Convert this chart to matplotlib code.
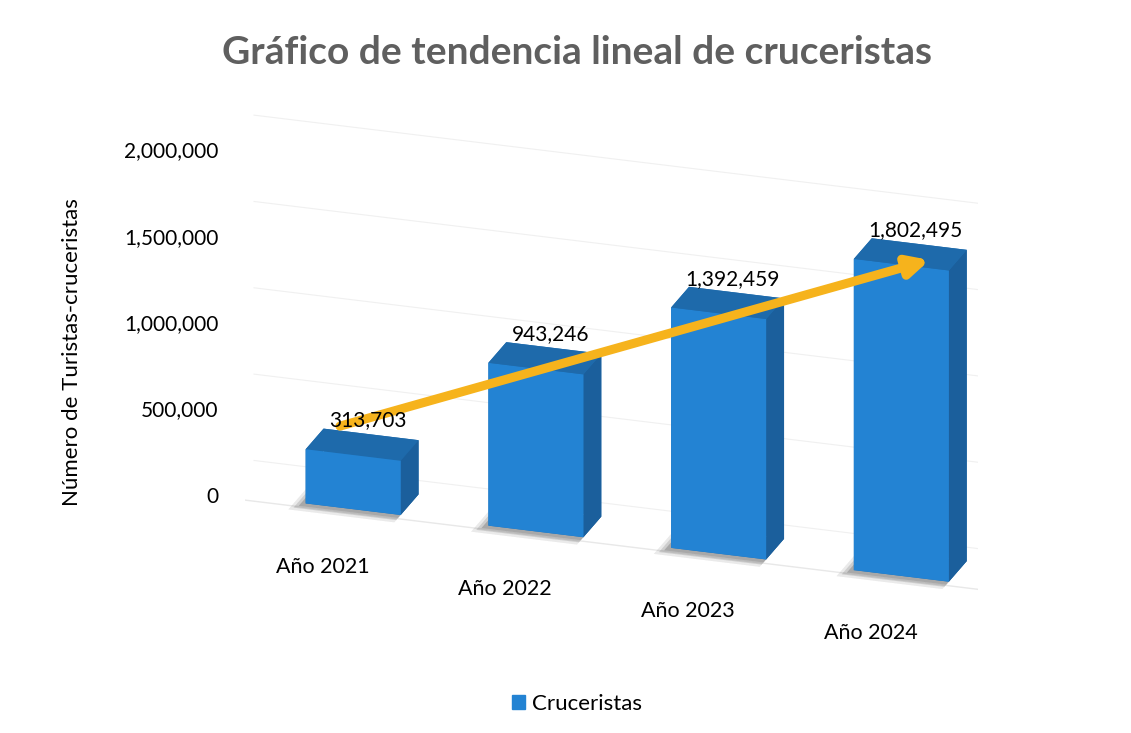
import numpy as np
import matplotlib.pyplot as plt
from matplotlib.patches import Patch
from mpl_toolkits.mplot3d import proj3d

plt.rcParams['font.family'] = ['Lato', 'DejaVu Sans']

years = ['Año 2021', 'Año 2022', 'Año 2023', 'Año 2024']
cruceristas = [313703, 943246, 1392459, 1802495]
ticks = [0, 500000, 1000000, 1500000, 2000000]

blue = '#2383D3'
# face colours: bottom, top, front, back, left, right
faces = ['#1f6fb3', '#1e6aab', '#2383D3', '#1f6fb3', '#1f6fb3', '#1b5f9c']

fig = plt.figure(figsize=(11.31, 7.33), dpi=100)
ax = fig.add_axes([0.041, 0.005, 1.0, 1.0], projection='3d', proj_type='ortho')
ax.computed_zorder = False
ax.view_init(elev=22, azim=-72)
ax.set_xlim(-0.7, 3.5)
ax.set_ylim(0, 0.5)
ax.set_zlim(0, 2000000)
ax.set_box_aspect((3.9, 0.5, 1.8), zoom=1.185)
ax.set_axis_off()

w, d = 0.52, 0.28
x = np.arange(len(years))

# faint grid on back wall and floor edge
for t in ticks:
    ax.plot([-0.7, 3.5], [0.5, 0.5], [t, t], color='#f0f0f0', lw=0.8, zorder=0)
ax.plot([-0.7, 3.5], [0.0, 0.0], [0, 0], color='#e8e8e8', lw=1.0, zorder=0)

# soft shadows under the bars
for g, a in [(0.10, 0.05), (0.07, 0.08), (0.04, 0.12)]:
    ax.bar3d(x - w / 2 - g * 0.6, np.full(4, 0.05 - g), np.zeros(4), w + g * 0.6, d + g,
             np.ones(4), color='#303030', alpha=a, shade=False, edgecolor='none', zorder=1)

ax.bar3d(x - w / 2, np.full(4, 0.05), np.zeros(4), w, d, cruceristas,
         color=faces * len(x), shade=False, edgecolor='none', zorder=2)

fig.canvas.draw()
M = ax.get_proj()


def to2d(px, py, pz):
    u, v, _ = proj3d.proj_transform(px, py, pz, M)
    return u, v


# tick labels
for t in ticks:
    ax.annotate(f'{t:,}', to2d(-0.72, 0.0, t), ha='right', va='center', fontsize=15,
                zorder=100, annotation_clip=False)

# category labels
for i, lab in enumerate(years):
    ax.annotate(lab, to2d(i - 0.15, 0.0, -330000), ha='center', va='center', fontsize=15.5,
                zorder=100, annotation_clip=False)

# value labels
for i, v in enumerate(cruceristas):
    ax.annotate(f'{v:,}', to2d(i - 0.02, 0.33, v + 20000), ha='center', va='bottom', fontsize=15,
                zorder=100, annotation_clip=False)

# trend arrow
ax.annotate('', xy=to2d(3.12, 0.15, cruceristas[3]), xytext=to2d(-0.16, 0.3, cruceristas[0] + 40000),
            zorder=50, annotation_clip=False,
            arrowprops=dict(arrowstyle='-|>,head_length=1.2,head_width=0.6',
                            color='#F6B31C', lw=6.5, shrinkA=0, shrinkB=0))

fig.text(0.51, 0.929, 'Gráfico de tendencia lineal de cruceristas', ha='center', va='center',
         fontsize=28, fontweight='bold', color='#5f5f5f')
fig.text(0.064, 0.52, 'Número de Turistas-cruceristas', rotation=90, ha='center', va='center',
         fontsize=16)
fig.legend(handles=[Patch(color=blue, label='Cruceristas')], loc='center',
           bbox_to_anchor=(0.51, 0.04), frameon=False, fontsize=16,
           handlelength=0.6, handleheight=0.6, handletextpad=0.3)

fig.savefig('out.png', dpi=100)
